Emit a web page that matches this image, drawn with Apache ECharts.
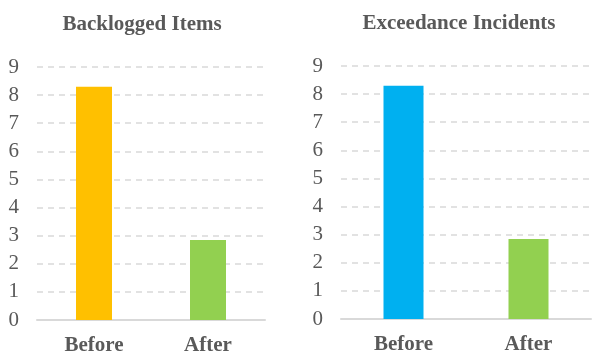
<!DOCTYPE html>
<html>
<head>
<meta charset="utf-8">
<script src="https://cdn.jsdelivr.net/npm/echarts@6/dist/echarts.min.js"></script>
<style>
html,body{margin:0;padding:0;background:#fff;}
#chart{width:593px;height:358px;}
</style>
</head>
<body>
<div id="chart"></div>
<script>
var categories = ['Before', 'After'];
var backlogged = [8.3, 2.85];
var exceedance = [8.3, 2.85];
var yTicks = [0, 1, 2, 3, 4, 5, 6, 7, 8, 9];
var titles = ['Backlogged Items', 'Exceedance Incidents'];

var chart = echarts.init(document.getElementById('chart'));
var font = '"Liberation Serif", "Times New Roman", serif';
var textColor = '#595959';
var lineColor = '#d9d9d9';

function xAxis(idx) {
    return {
        type: 'category',
        gridIndex: idx,
        data: categories,
        axisTick: { show: false },
        axisLine: { lineStyle: { color: lineColor, width: 2 } },
        axisLabel: {
            margin: 15,
            color: textColor,
            fontFamily: font,
            fontWeight: 'bold',
            fontSize: 21
        }
    };
}
function yAxis(idx) {
    return {
        type: 'value',
        gridIndex: idx,
        min: yTicks[0],
        max: yTicks[yTicks.length - 1],
        interval: 1,
        axisLine: { show: false },
        axisTick: { show: false },
        splitLine: {
            lineStyle: { color: lineColor, width: 1.5, type: [6, 5] }
        },
        axisLabel: {
            margin: 18,
            color: textColor,
            fontFamily: font,
            fontSize: 21
        }
    };
}

var option = {
    animation: false,
    title: [{
        text: titles[0],
        left: 137,
        top: 9,
        textAlign: 'center',
        textStyle: { color: textColor, fontFamily: font, fontWeight: 'bold', fontSize: 21 }
    }, {
        text: titles[1],
        left: 454,
        top: 8,
        textAlign: 'center',
        textStyle: { color: textColor, fontFamily: font, fontWeight: 'bold', fontSize: 21 }
    }],
    grid: [
        { left: 37, right: 328, top: 67, bottom: 38 },
        { left: 341, right: 2, top: 66, bottom: 39 }
    ],
    xAxis: [xAxis(0), xAxis(1)],
    yAxis: [yAxis(0), yAxis(1)],
    series: [{
        type: 'bar',
        xAxisIndex: 0,
        yAxisIndex: 0,
        barWidth: 36,
        data: [
            { value: backlogged[0], itemStyle: { color: '#FFC000' } },
            { value: backlogged[1], itemStyle: { color: '#92D050' } }
        ]
    }, {
        type: 'bar',
        xAxisIndex: 1,
        yAxisIndex: 1,
        barWidth: 40,
        data: [
            { value: exceedance[0], itemStyle: { color: '#00B0F0' } },
            { value: exceedance[1], itemStyle: { color: '#92D050' } }
        ]
    }]
};
chart.setOption(option);
</script>
</body>
</html>
